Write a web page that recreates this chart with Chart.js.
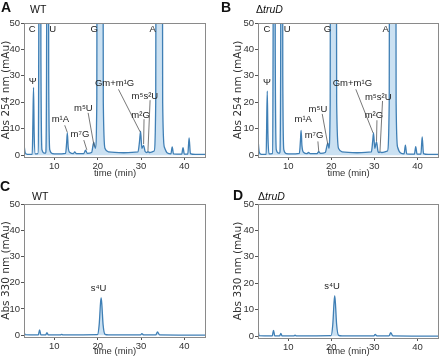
<!DOCTYPE html>
<html>
<head>
<meta charset="utf-8">
<script src="https://cdn.jsdelivr.net/npm/chart.js@4.4.1/dist/chart.umd.min.js"></script>
<style>
  body { margin: 0; background: #fff; width: 440px; height: 358px; position: relative; overflow: hidden; }
  .panel { position: absolute; width: 220px; height: 180px; }
</style>
</head>
<body>
<div class="panel" style="left:0;top:0"><canvas id="cA"></canvas></div>
<div class="panel" style="left:220px;top:0"><canvas id="cB"></canvas></div>
<div class="panel" style="left:0;top:178px"><canvas id="cC"></canvas></div>
<div class="panel" style="left:220px;top:178px"><canvas id="cD"></canvas></div>
<script>
/* ---------- DATA (time in min, absorbance in mAu) ---------- */
const xTicks = [10, 20, 30, 40];
const yTicks = [0, 10, 20, 30, 40, 50];

// A: WT, 254 nm
const timeA = [3.0, 3.3, 3.8, 4.9, 5.05, 5.2, 5.35, 5.6, 6.2, 6.4, 6.65, 6.9, 7.15, 7.7, 8.0, 8.2, 8.45, 8.7, 8.95, 9.6,
  10.5, 12.6, 12.85, 13.0, 13.2, 13.6, 14.4, 14.7, 15.1, 16.8, 17.2, 17.6, 18.6, 19.1, 19.45, 19.8, 20.1, 20.55, 21.0, 21.3, 21.7, 22.5,
  26.0, 29.3, 29.65, 29.9, 30.2, 30.6, 30.95, 31.35, 31.6, 32.0, 33.0, 33.4, 33.75, 34.2, 34.7, 35.0, 35.4, 36.1, 36.9, 37.2, 37.5,
  39.4, 39.7, 40.0, 40.8, 41.1, 41.4, 42.5, 45.0];
const absA = [4.0, 0.8, 0.3, 0.3, 12, 25.6, 8, 0.5, 0.6, 40, 400, 40, 2, 0.8, 0.8, 30, 400, 30, 2, 0.6,
  0.5, 0.7, 5, 8.4, 3, 1.0, 0.6, 1.2, 0.6, 0.6, 1.9, 0.7, 1.0, 4.9, 2.6, 20, 400, 600, 400, 20, 2.5, 1.2,
  0.9, 1.2, 5, 9.1, 2.6, 3.7, 1.4, 1.0, 1.3, 1.0, 1.5, 20, 400, 600, 400, 20, 3, 0.8, 0.5, 3.1, 0.5,
  0.4, 2.8, 0.4, 0.4, 6.5, 0.6, 0.3, 0.3];

// B: ΔtruD, 254 nm
const timeB = [3.0, 3.3, 3.8, 4.9, 5.0, 5.15, 5.3, 5.55, 6.3, 6.5, 6.75, 7.0, 7.25, 7.8, 8.05, 8.25, 8.5, 8.75, 9.0, 9.6,
  10.5, 12.6, 12.85, 13.0, 13.2, 13.6, 14.4, 14.7, 15.1, 16.7, 17.1, 17.5, 18.6, 19.2, 19.45, 19.75, 20.05, 20.5, 20.95, 21.25, 21.7, 22.5,
  26.0, 29.3, 29.6, 29.8, 30.1, 30.5, 30.85, 31.1, 31.3, 31.7, 33.0, 33.45, 33.8, 34.25, 34.75, 35.05, 35.4, 36.1, 36.9, 37.2, 37.5,
  39.3, 39.6, 39.9, 40.8, 41.1, 41.4, 42.5, 45.0];
const absB = [6.3, 1.0, 0.3, 0.3, 10, 24.2, 8, 0.5, 0.6, 40, 400, 40, 2, 0.8, 0.8, 30, 400, 30, 2, 0.6,
  0.5, 0.7, 5.5, 9.4, 3.5, 1.0, 0.6, 1.0, 0.6, 0.6, 1.3, 0.7, 1.0, 4.5, 2.6, 20, 400, 600, 400, 20, 2.5, 1.2,
  0.9, 1.2, 5, 8.4, 2.6, 5.0, 1.4, 1.0, 1.2, 1.0, 1.5, 20, 400, 600, 400, 20, 3, 0.8, 0.5, 3.8, 0.5,
  0.4, 3.2, 0.4, 0.4, 6.9, 0.6, 0.3, 0.3];

// C: WT, 330 nm
const timeC = [3.0, 3.25, 6.3, 6.6, 6.9, 8.0, 8.3, 8.6, 11.4, 11.7, 12.0, 19.95, 20.35, 20.65, 20.8, 20.95, 21.25, 21.7, 22.5,
  29.9, 30.2, 30.6, 33.4, 33.8, 34.3, 45.0];
const absC = [1.5, 0.2, 0.1, 2.0, 0.1, 0.1, 1.0, 0.1, 0.1, 0.3, 0.1, 0.2, 4, 12, 14.2, 12, 4, 0.3, 0.1,
  0.1, 0.6, 0.1, 0.1, 1.2, 0.1, 0.0];

// D: ΔtruD, 330 nm
const timeD = [3.0, 3.25, 6.3, 6.6, 6.9, 8.0, 8.3, 8.6, 11.3, 11.6, 11.9, 19.95, 20.35, 20.65, 20.8, 20.95, 21.25, 21.7, 22.5,
  29.9, 30.2, 30.6, 33.4, 33.8, 34.3, 45.0];
const absD = [2.8, 0.2, 0.1, 2.2, 0.1, 0.1, 1.0, 0.1, 0.1, 0.4, 0.1, 0.2, 4.3, 12.8, 15.2, 12.8, 4.3, 0.3, 0.1,
  0.1, 0.7, 0.1, 0.1, 1.3, 0.1, 0.0];

/* ---------- PEAK LABELS (data coords; optional leader line) ---------- */
const peaksA = [
  { text: "C", x: 4.9, y: 47.5 }, { text: "U", x: 9.6, y: 47.5 }, { text: "G", x: 19.2, y: 47.5 }, { text: "A", x: 32.7, y: 47.5 },
  { text: "Ψ", x: 5.0, y: 27.9 },
  { text: "m¹A", x: 11.4, y: 13.6, line: [12.4, 11.3, 13.0, 8.6] },
  { text: "m⁷G", x: 15.9, y: 8.0, line: [16.8, 5.7, 17.5, 2.0] },
  { text: "m⁵U", x: 16.7, y: 17.6, line: [17.8, 16.0, 19.2, 3.2] },
  { text: "Gm+m¹G", x: 23.9, y: 27.2, line: [24.8, 24.9, 29.8, 8.8] },
  { text: "m²G", x: 29.9, y: 15.0, line: [30.7, 13.6, 30.6, 4.2] },
  { text: "m⁵s²U", x: 30.9, y: 22.4, line: [32.1, 20.8, 31.6, 1.4] }
];
const peaksB = [
  { text: "C", x: 5.1, y: 47.5 }, { text: "U", x: 9.8, y: 47.5 }, { text: "G", x: 19.1, y: 47.5 }, { text: "A", x: 32.6, y: 47.5 },
  { text: "Ψ", x: 5.1, y: 27.7 },
  { text: "m¹A", x: 13.5, y: 13.5 },
  { text: "m⁷G", x: 16.0, y: 7.4, line: [16.9, 5.2, 17.1, 1.4] },
  { text: "m⁵U", x: 16.9, y: 17.4, line: [17.9, 15.6, 19.2, 4.0] },
  { text: "Gm+m¹G", x: 24.9, y: 27.1, line: [25.7, 24.9, 29.7, 8.4] },
  { text: "m²G", x: 29.9, y: 14.9, line: [30.6, 13.2, 30.5, 5.2] },
  { text: "m⁵s²U", x: 30.9, y: 22.0, line: [31.9, 20.5, 31.3, 1.3] }
];
const peaksC = [{ text: "s⁴U", x: 20.2, y: 18 }];
const peaksD = [{ text: "s⁴U", x: 20.2, y: 19 }];

const SANS = "Liberation Sans";

/* ---------- frame, peak labels, panel title ---------- */
const decor = {
  id: "decor",
  afterDatasetsDraw(chart, args, o) {
    const { ctx, chartArea: a, scales: { x, y } } = chart;
    ctx.save();
    ctx.strokeStyle = "#8a8a8a";
    ctx.lineWidth = 1;
    ctx.strokeRect(Math.round(a.left) + 0.5, Math.round(a.top) + 0.5,
      Math.round(a.right - a.left) - 1, Math.round(a.bottom - a.top));

    ctx.font = `9.5px "${SANS}"`;
    ctx.fillStyle = "#222";
    ctx.textAlign = "center";
    ctx.textBaseline = "middle";
    o.peaks.forEach(p => {
      ctx.fillText(p.text, x.getPixelForValue(p.x), y.getPixelForValue(p.y));
      if (p.line) {
        ctx.strokeStyle = "#555";
        ctx.lineWidth = 0.8;
        ctx.beginPath();
        ctx.moveTo(x.getPixelForValue(p.line[0]), y.getPixelForValue(p.line[1]));
        ctx.lineTo(x.getPixelForValue(p.line[2]), y.getPixelForValue(p.line[3]));
        ctx.stroke();
      }
    });

    // panel letter + strain name
    ctx.textAlign = "left";
    ctx.textBaseline = "alphabetic";
    ctx.fillStyle = "#111";
    ctx.font = `bold 14px "${SANS}"`;
    ctx.fillText(o.letter[0], o.letter[1], o.letter[2]);
    let tx = o.name[1];
    o.name[0].forEach(seg => {
      ctx.font = `${seg.italic ? "italic " : ""}10.5px "${SANS}"`;
      ctx.fillText(seg.t, tx, o.name[2]);
      tx += ctx.measureText(seg.t).width;
    });
    ctx.restore();
  }
};

function makePanel(id, times, values, cfg) {
  new Chart(document.getElementById(id), {
    type: "line",
    data: {
      datasets: [{
        data: times.map((t, i) => ({ x: t, y: values[i] })),
        borderColor: "#3f7fb5",
        backgroundColor: "rgba(160,200,232,0.55)",
        borderWidth: 1.3,
        fill: "origin",
        pointRadius: 0,
        cubicInterpolationMode: "monotone"
      }]
    },
    options: {
      responsive: true,
      maintainAspectRatio: false,
      animation: false,
      events: [],
      layout: { padding: cfg.pad },
      plugins: {
        legend: { display: false },
        tooltip: { enabled: false },
        decor: { peaks: cfg.peaks, letter: cfg.letter, name: cfg.name }
      },
      scales: {
        x: {
          type: "linear", min: 3, max: 45,
          afterBuildTicks: s => { s.ticks = xTicks.map(v => ({ value: v })); },
          afterFit: s => { s.height = cfg.xH; },
          grid: { drawOnChartArea: false, tickLength: 3, color: "#555" },
          border: { display: false },
          ticks: { color: "#333", padding: 1, maxRotation: 0, font: { family: SANS, size: 9.5 } },
          title: { display: true, text: "time (min)", color: "#333", padding: { top: 0, bottom: 1 }, font: { family: SANS, size: 9.5 } }
        },
        y: {
          min: -0.7, max: 50,
          afterBuildTicks: s => { s.ticks = yTicks.map(v => ({ value: v })); },
          afterFit: s => { s.width = cfg.yW; },
          grid: { drawOnChartArea: false, tickLength: 3, color: "#555" },
          border: { display: false },
          ticks: { color: "#333", padding: 1, font: { family: SANS, size: 9.5 } },
          title: { display: true, text: cfg.yTitle, color: "#333", padding: 0, font: { family: "DejaVu Sans", size: 10.5 } }
        }
      }
    },
    plugins: [decor]
  });
}

const WT = [{ t: "WT" }];
const TRUD = [{ t: "Δ" }, { t: "truD", italic: true }];

makePanel("cA", timeA, absA, {
  pad: { left: 0, right: 14, top: 23, bottom: 0 }, xH: 23, yW: 24,
  yTitle: "Abs 254 nm (mAu)", peaks: peaksA, letter: ["A", 1, 12], name: [WT, 30, 12.5]
});
makePanel("cB", timeB, absB, {
  pad: { left: 12, right: 1, top: 23, bottom: 0 }, xH: 23, yW: 26,
  yTitle: "Abs 254 nm (mAu)", peaks: peaksB, letter: ["B", 1, 12], name: [TRUD, 36, 12.5]
});
makePanel("cC", timeC, absC, {
  pad: { left: 0, right: 14, top: 26, bottom: 0 }, xH: 21, yW: 24,
  yTitle: "Abs 330 nm (mAu)", peaks: peaksC, letter: ["C", 0, 13], name: [WT, 32, 22]
});
makePanel("cD", timeD, absD, {
  pad: { left: 12, right: 1, top: 26, bottom: 0 }, xH: 20, yW: 26,
  yTitle: "Abs 330 nm (mAu)", peaks: peaksD, letter: ["D", 13, 22], name: [TRUD, 38, 22]
});
</script>
</body>
</html>
